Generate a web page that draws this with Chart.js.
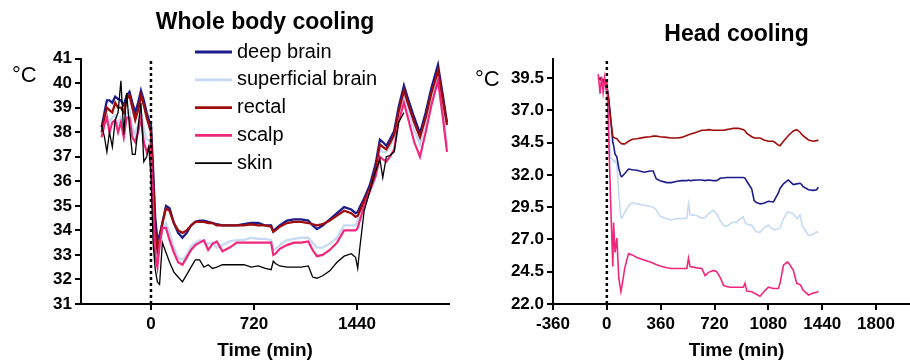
<!DOCTYPE html>
<html>
<head>
<meta charset="utf-8">
<script src="https://cdn.jsdelivr.net/npm/chart.js@4.4.0/dist/chart.umd.min.js"></script>
<style>
html, body { margin:0; padding:0; background:#fff; overflow:hidden; width:910px; height:360px; }
canvas { position:absolute; top:0; }
</style>
</head>
<body>
<canvas id="wb" width="460" height="360" style="left:0"></canvas>
<canvas id="hc" width="460" height="360" style="left:460px"></canvas>
<script>
var FONT = '"Liberation Sans", Arial, Helvetica, sans-serif';

// whole body cooling (left panel)
var wbTime = [-345,-325,-308,-290,-270,-250,-230,-210,-190,-170,-150,-130,-110,-90,-70,-50,-30,-15,0,
  15,30,45,60,80,105,130,160,190,220,250,280,310,340,370,400,430,460,500,550,600,650,700,750,800,840,855,870,900,
  950,1000,1050,1100,1130,1160,1200,1250,1300,1350,1400,1430,1445,1460,1490,1530,1570,1600,1620,1645,1670,1700,
  1730,1768,1800,1840,1880,1920,1960,2006,2040,2069];
var wbDeep = [38.2,38.8,39.3,39.3,39.2,39.45,39.35,39.3,39.1,39.5,39.65,39.2,38.8,39.2,39.7,39.3,38.8,38.5,38.3,
  36.5,34.5,33.6,33.8,34.3,35.0,34.9,34.3,33.9,33.7,33.9,34.2,34.35,34.4,34.4,34.35,34.3,34.25,34.2,34.2,34.2,34.25,34.3,34.3,34.2,34.2,33.95,34.05,34.2,
  34.4,34.45,34.45,34.4,34.2,34.05,34.2,34.45,34.7,34.95,34.85,34.7,34.75,34.95,35.3,35.85,36.7,37.7,37.6,37.45,37.7,38.05,
  39.0,39.9,39.3,38.6,37.95,38.8,39.8,40.75,39.5,38.4];
var wbSuperficial = [37.9,38.4,38.7,38.4,38.6,38.7,38.3,38.6,38.1,38.8,38.9,38.2,37.9,38.3,38.9,38.2,37.7,37.7,37.5,
  35.5,33.5,32.8,33.3,34.0,34.3,33.9,33.3,32.9,32.8,33.0,33.35,33.5,33.6,33.55,33.45,33.5,33.3,33.4,33.55,33.6,33.6,33.7,33.65,33.65,33.6,33.2,33.25,33.4,
  33.6,33.65,33.7,33.7,33.5,33.3,33.3,33.45,33.7,34.2,34.2,34.2,34.4,34.7,35.1,35.7,36.4,37.3,37.2,37.2,37.4,37.8,
  38.7,39.5,38.9,38.1,37.5,38.4,39.4,40.3,39.0,37.5];
var wbRectal = [38.0,38.6,39.0,38.9,38.8,39.2,39.0,39.0,38.8,39.35,39.5,39.0,38.5,38.9,39.5,39.1,38.6,38.3,38.0,
  36.0,34.0,33.2,33.6,34.3,34.9,34.8,34.3,34.0,33.9,34.0,34.2,34.35,34.35,34.35,34.3,34.3,34.2,34.2,34.2,34.2,34.2,34.25,34.2,34.2,34.15,33.95,34.0,34.15,
  34.3,34.35,34.35,34.3,34.25,34.2,34.25,34.4,34.6,34.8,34.7,34.55,34.6,34.8,35.2,35.7,36.5,37.5,37.4,37.3,37.55,37.9,
  38.8,39.7,39.1,38.4,37.8,38.6,39.6,40.5,39.3,38.3];
var wbScalp = [37.8,38.3,38.6,38.0,38.4,38.5,38.0,38.4,37.8,38.6,38.6,37.8,37.6,38.0,38.6,37.6,37.2,37.4,37.2,
  35.0,33.0,32.5,33.4,34.1,34.1,33.6,33.1,32.7,32.6,32.9,33.2,33.4,33.5,33.6,33.2,33.45,33.55,33.15,33.3,33.5,33.5,33.5,33.5,33.5,33.5,33.0,33.05,33.25,
  33.4,33.5,33.5,33.55,33.2,32.95,33.0,33.2,33.5,34.0,34.0,34.0,34.1,34.4,35.0,35.6,36.2,37.0,36.9,36.8,37.0,37.3,
  38.4,39.2,38.5,37.6,37.0,38.0,39.1,40.1,38.6,37.2];
var wbSkin = [38.3,37.8,37.2,38.0,37.4,38.5,38.8,40.1,37.9,39.6,38.2,37.1,37.1,38.2,39.2,36.8,37.0,37.4,36.2,
  33.5,32.4,31.9,31.8,33.5,33.1,32.7,32.3,32.1,31.9,32.2,32.5,32.8,32.8,32.5,32.6,32.45,32.5,32.6,32.6,32.6,32.6,32.5,32.55,32.45,32.4,32.75,32.65,32.55,
  32.5,32.5,32.5,32.55,32.1,32.05,32.15,32.35,32.7,32.95,33.05,32.9,32.45,33.3,34.8,35.6,36.4,36.9,36.15,37.0,37.05,37.2,
  38.4,38.8,null,null,null,null,null,null,null,null];
var wbXTicks = [0, 720, 1440];
var wbYTicks = [31,32,33,34,35,36,37,38,39,40,41];

// head cooling (right panel)
var hcTime = [-58,-45,-35,-25,-15,-5,0,10,25,40,45,55,67,80,94,100,120,145,170,200,250,290,310,330,356,400,431,470,500,
  535,546,557,600,635,657,680,713,735,760,780,800,824,846,869,880,913,924,936,969,985,1000,1025,1050,1080,1114,1147,
  1158,1181,1207,1214,1247,1270,1292,1303,1310,1348,1380,1403,1414];
var hcDeep = [39.4,39.5,39.3,39.2,39.3,39.2,39.2,38.2,36.5,34.5,34.3,33.6,33.4,32.5,31.9,31.85,32.1,32.45,32.4,32.35,32.2,32.3,32.3,31.7,31.55,31.4,31.4,31.5,31.55,
  31.55,31.6,31.55,31.6,31.6,31.55,31.6,31.55,31.55,31.75,31.75,31.8,31.8,31.8,31.8,31.8,31.8,31.75,31.5,30.9,30.0,29.85,29.75,29.8,29.95,29.9,30.6,
  30.95,31.3,31.55,31.6,31.25,31.3,31.35,31.25,31.1,30.85,30.8,30.85,31.05];
var hcSuperficial = [38.3,38.3,38.4,38.3,38.6,38.9,39.0,37.0,33.3,33.2,33.0,33.1,32.8,30.5,28.7,28.65,29.1,29.6,29.85,29.75,29.65,29.55,29.5,29.3,28.8,28.6,28.5,28.6,28.6,
  28.65,29.75,28.9,28.85,28.65,28.7,29.0,29.25,29.0,28.4,28.1,28.0,28.2,28.35,28.3,28.5,28.75,28.3,28.2,28.1,27.8,27.6,27.55,27.9,28.1,27.75,27.8,
  27.9,28.6,29.1,29.15,28.95,28.6,28.9,28.3,28.0,27.3,27.4,27.6,27.5];
var hcRectal = [39.5,39.4,39.3,39.4,39.3,39.3,39.3,38.0,36.3,35.0,34.9,34.85,34.8,34.6,34.45,34.4,34.4,34.6,34.75,34.8,34.9,34.95,35.0,35.0,34.95,34.9,34.85,34.85,34.9,
  35.05,35.1,35.15,35.3,35.45,35.45,35.5,35.45,35.45,35.45,35.45,35.5,35.55,35.6,35.6,35.6,35.5,35.4,35.2,34.95,34.85,34.85,34.85,34.7,34.6,34.6,34.3,
  34.25,34.6,34.95,35.05,35.4,35.5,35.3,35.15,35.05,34.7,34.6,34.65,34.7];
var hcScalp = [39.8,38.3,39.6,38.4,39.5,38.6,39.4,36.0,30.0,24.9,28.3,26.0,27.1,24.0,22.95,23.3,24.8,25.9,25.8,25.6,25.4,25.25,25.15,25.05,24.95,24.8,24.75,24.75,24.75,
  24.75,25.55,24.9,24.8,24.75,24.2,24.45,24.6,24.5,24.0,23.45,23.35,23.3,23.3,23.3,23.3,23.3,23.6,23.0,22.95,22.85,22.75,22.6,22.95,23.3,23.2,23.2,
  23.6,25.0,25.25,25.2,24.6,23.6,23.5,23.3,23.1,22.7,22.85,22.9,23.0];
var hcXTicks = [-360, 0, 360, 720, 1080, 1440, 1800];
var hcYTicks = [22.0, 24.5, 27.0, 29.5, 32.0, 34.5, 37.0, 39.5];

var colDeep = "#1c1c8c";
var colSup = "#c6daf4";
var colRectal = "#a00c0c";
var colScalp = "#f0287c";
var colSkin = "#000000";

function series(label, times, vals, color, width, order) {
    return {
        label: label,
        data: times.map(function(t, i){ return {x: t, y: vals[i]}; }),
        borderColor: color,
        borderWidth: width,
        pointRadius: 0,
        tension: 0,
        fill: false,
        order: order
    };
}

function zeroLine(ymin, ymax) {
    return {
        label: "",
        data: [{x: 0, y: ymin}, {x: 0, y: ymax}],
        borderColor: "#000",
        borderWidth: 2.5,
        borderDash: [3, 3],
        pointRadius: 0,
        order: 0
    };
}

var decoPlugin = {
    id: "deco",
    afterDraw: function(chart, args, opts) {
        var ctx = chart.ctx;
        ctx.save();
        ctx.fillStyle = "#000";
        ctx.textBaseline = "middle";
        ctx.textAlign = "left";
        ctx.font = "22px " + FONT;
        ctx.fillText("\u00B0C", opts.unitX, opts.unitY);
        if (opts.legend) {
            ctx.font = "20px " + FONT;
            var row = 0;
            chart.data.datasets.forEach(function(ds) {
                if (!ds.label) return;
                var y = opts.legendY + row * opts.legendGap;
                ctx.strokeStyle = ds.borderColor;
                ctx.lineWidth = ds.borderWidth + 0.5;
                ctx.beginPath();
                ctx.moveTo(opts.legendX, y);
                ctx.lineTo(opts.legendX + 37, y);
                ctx.stroke();
                ctx.fillText(ds.label, opts.legendX + 42, y);
                row++;
            });
        }
        ctx.restore();
    }
};

function axisX(min, max, ticks) {
    return {
        type: "linear", min: min, max: max,
        afterBuildTicks: function(s){ s.ticks = ticks.map(function(v){ return {value: v}; }); },
        afterFit: function(s){ s.height = 56; },
        grid: { drawOnChartArea: false, drawTicks: true, tickLength: 6, color: "#000", lineWidth: 2 },
        border: { color: "#000", width: 2 },
        ticks: { font: { size: 17, weight: "bold" }, color: "#000", padding: 4, maxRotation: 0, autoSkip: false,
                 callback: function(v){ return String(v); } },
        title: { display: true, text: "Time (min)", color: "#000", padding: 0,
                 font: { size: 19, weight: "bold", lineHeight: 1 } }
    };
}

function axisY(min, max, ticks, width, fmt) {
    return {
        type: "linear", min: min, max: max,
        afterBuildTicks: function(s){ s.ticks = ticks.map(function(v){ return {value: v}; }); },
        afterFit: function(s){ s.width = width; },
        grid: { drawOnChartArea: false, drawTicks: true, tickLength: 6, color: "#000", lineWidth: 2 },
        border: { color: "#000", width: 2 },
        ticks: { font: { size: 17, weight: "bold" }, color: "#000", padding: 3,
                 callback: function(v){ return fmt(v); } }
    };
}

Chart.defaults.font.family = FONT;
Chart.defaults.color = "#000";

new Chart(document.getElementById("wb"), {
    type: "line",
    data: {
        datasets: [
            series("deep brain", wbTime, wbDeep, colDeep, 2.3, 4),
            series("superficial brain", wbTime, wbSuperficial, colSup, 2.3, 5),
            series("rectal", wbTime, wbRectal, colRectal, 2.3, 3),
            series("scalp", wbTime, wbScalp, colScalp, 2.2, 2),
            series("skin", wbTime, wbSkin, colSkin, 1.3, 1),
            zeroLine(31, 41)
        ]
    },
    options: {
        responsive: false, animation: false, devicePixelRatio: 1,
        layout: { padding: { left: 0, right: 11, top: 0, bottom: 0 } },
        plugins: {
            legend: { display: false },
            tooltip: { enabled: false },
            title: { display: true, text: "Whole body cooling", fullSize: false, color: "#000",
                     font: { size: 23, weight: "bold" }, padding: { top: 9, bottom: 22 } },
            deco: { unitX: 12, unitY: 76, legend: true, legendX: 195, legendY: 52, legendGap: 27.8 }
        },
        scales: {
            x: axisX(-489, 2083, wbXTicks),
            y: axisY(31, 41, wbYTicks, 81, function(v){ return String(v); })
        }
    },
    plugins: [decoPlugin]
});

new Chart(document.getElementById("hc"), {
    type: "line",
    data: {
        datasets: [
            series("deep brain", hcTime, hcDeep, colDeep, 1.6, 4),
            series("superficial brain", hcTime, hcSuperficial, colSup, 1.6, 5),
            series("rectal", hcTime, hcRectal, colRectal, 1.6, 3),
            series("scalp", hcTime, hcScalp, colScalp, 1.6, 2),
            zeroLine(22, 41)
        ]
    },
    options: {
        responsive: false, animation: false, devicePixelRatio: 1,
        layout: { padding: { left: 0, right: 0, top: 0, bottom: 0 } },
        plugins: {
            legend: { display: false },
            tooltip: { enabled: false },
            title: { display: true, text: "Head cooling", fullSize: false, color: "#000",
                     font: { size: 23, weight: "bold" }, padding: { top: 21, bottom: 10 } },
            deco: { unitX: 15, unitY: 80, legend: false }
        },
        scales: {
            x: axisX(-360, 2094, hcXTicks),
            y: axisY(22, 41, hcYTicks, 93, function(v){ return v.toFixed(1); })
        }
    },
    plugins: [decoPlugin]
});
</script>
</body>
</html>
